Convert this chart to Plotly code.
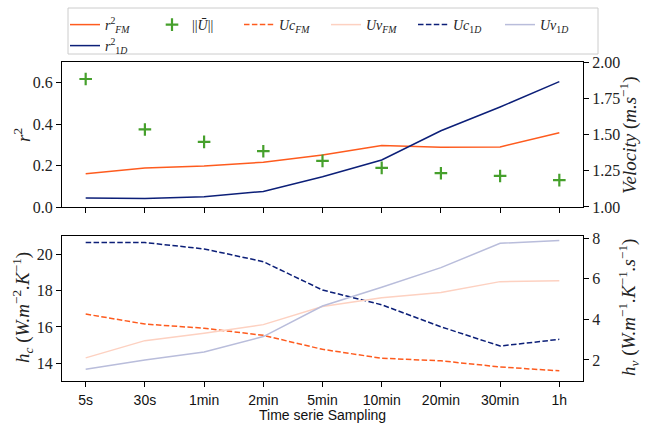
import plotly.graph_objects as go

# Sampling periods of the time series
categories = ["5s", "30s", "1min", "2min", "5min", "10min", "20min", "30min", "1h"]

# Top panel: coefficient of determination and mean wind speed
r2_fm = [0.160, 0.188, 0.198, 0.216, 0.251, 0.297, 0.289, 0.290, 0.358]
r2_1d = [0.044, 0.041, 0.050, 0.075, 0.146, 0.227, 0.368, 0.483, 0.605]
velocity = [1.883, 1.535, 1.449, 1.385, 1.318, 1.270, 1.233, 1.214, 1.185]

# Bottom panel: convective (hc) and wind-dependent (hv) coefficients
uc_fm = [16.71, 16.16, 15.93, 15.54, 14.77, 14.28, 14.14, 13.80, 13.59]
uc_1d = [20.64, 20.64, 20.29, 19.59, 18.03, 17.22, 16.01, 14.95, 15.32]
uv_fm = [2.10, 2.95, 3.32, 3.74, 4.63, 5.07, 5.32, 5.86, 5.90]
uv_1d = [1.54, 1.99, 2.39, 3.15, 4.66, 5.58, 6.55, 7.75, 7.89]

ORANGE = "#fe5b1e"
NAVY = "#0c1f78"
GREEN = "#46a02c"
SALMON = "#fdd1c1"
LAVENDER = "#b9bddb"
DASH = "5.5px,2.4px"

SERIF = "Liberation Serif"
SANS = "Liberation Sans"

W, H = 645, 430
x0, x1 = 62 / W, 583 / W
top_dom = [1 - 207 / H, 1 - 62 / H]
bot_dom = [1 - 381 / H, 1 - 236 / H]

fig = go.Figure()

fig.add_trace(go.Scatter(x=categories, y=r2_fm, mode="lines", name="<i>r</i><sup>2</sup><sub><i>FM</i></sub>",
                         line=dict(color=ORANGE, width=1.5), xaxis="x", yaxis="y", legend="legend"))
fig.add_trace(go.Scatter(x=categories, y=velocity, mode="markers", name="||<i>Ū</i>||",
                         marker=dict(symbol="cross-thin", size=9, line=dict(color=GREEN, width=2.2)),
                         xaxis="x", yaxis="y2", legend="legend"))
fig.add_trace(go.Scatter(x=categories, y=uc_fm, mode="lines", name="<i>Uc</i><sub><i>FM</i></sub>",
                         line=dict(color=ORANGE, width=1.5, dash=DASH), xaxis="x2", yaxis="y3",
                         legend="legend"))
fig.add_trace(go.Scatter(x=categories, y=uv_fm, mode="lines", name="<i>Uv</i><sub><i>FM</i></sub>",
                         line=dict(color=SALMON, width=1.5), xaxis="x2", yaxis="y4", legend="legend"))
fig.add_trace(go.Scatter(x=categories, y=uc_1d, mode="lines", name="<i>Uc</i><sub>1<i>D</i></sub>",
                         line=dict(color=NAVY, width=1.5, dash=DASH), xaxis="x2", yaxis="y3",
                         legend="legend"))
fig.add_trace(go.Scatter(x=categories, y=uv_1d, mode="lines", name="<i>Uv</i><sub>1<i>D</i></sub>",
                         line=dict(color=LAVENDER, width=1.5), xaxis="x2", yaxis="y4", legend="legend"))
fig.add_trace(go.Scatter(x=categories, y=r2_1d, mode="lines", name="<i>r</i><sup>2</sup><sub>1<i>D</i></sub>",
                         line=dict(color=NAVY, width=1.5), xaxis="x", yaxis="y", legend="legend2"))

axis_common = dict(showline=True, linecolor="black", linewidth=1.1, ticks="outside",
                   ticklen=5, tickwidth=1, tickcolor="black", showgrid=False, zeroline=False)
serif_ticks = dict(family=SERIF, size=16, color="#222")

legend_common = dict(orientation="h", xanchor="left",
                     bgcolor="rgba(0,0,0,0)", borderwidth=0,
                     font=dict(family=SERIF, size=14, color="#222"),
                     entrywidth=42, entrywidthmode="pixels", itemwidth=30,
                     traceorder="normal", tracegroupgap=0)

fig.update_layout(
    width=W, height=H,
    margin=dict(l=0, r=0, t=0, b=0, autoexpand=False),
    paper_bgcolor="white", plot_bgcolor="white",
    showlegend=True,
    legend=dict(x=65 / W, y=1 - 25 / H, yanchor="middle", **legend_common),
    legend2=dict(x=65 / W, y=1 - 46 / H, yanchor="middle", **legend_common),
    xaxis=dict(domain=[x0, x1], anchor="y", type="category", range=[-0.4, 8.4],
               showticklabels=False, mirror=True, **axis_common),
    yaxis=dict(domain=top_dom, anchor="x", range=[0, 0.7], tickvals=[0, 0.2, 0.4, 0.6],
               tickformat=".1f", tickfont=serif_ticks, mirror=True, **axis_common),
    yaxis2=dict(overlaying="y", side="right", anchor="x", range=[0.9999, 2.0003],
                tickvals=[1, 1.25, 1.5, 1.75, 2], tickformat=".2f", tickfont=serif_ticks, **axis_common),
    xaxis2=dict(domain=[x0, x1], anchor="y3", type="category", range=[-0.4, 8.4],
                tickfont=dict(family=SANS, size=14, color="#111"), ticklabelstandoff=1,
                mirror=True, **axis_common),
    yaxis3=dict(domain=bot_dom, anchor="x2", range=[13.03, 21.0], tickvals=[14, 16, 18, 20],
                tickfont=serif_ticks, mirror=True, **axis_common),
    yaxis4=dict(overlaying="y3", side="right", anchor="x2", range=[0.96, 8.11],
                tickvals=[2, 4, 6, 8], tickfont=serif_ticks, **axis_common),
)

# Frame around the two-row legend
fig.add_shape(type="rect", xref="paper", yref="paper", layer="below",
              x0=68 / W, x1=598 / W, y0=1 - 54 / H, y1=1 - 8 / H,
              line=dict(color="#cccccc", width=1), fillcolor="white")

# Axis titles
titles = [
    dict(text="<i>r</i><sup>2</sup>", x=22 / W, y=1 - 135 / H),
    dict(text="<i>Velocity</i> (<i>m.s</i><sup>−1</sup>)", x=628 / W, y=1 - 135 / H),
    dict(text="<i>h<sub>c</sub></i> (<i>W.m</i><sup>−2</sup><i>.K</i><sup>−1</sup>)", x=22 / W, y=1 - 308 / H),
    dict(text="<i>h<sub>v</sub></i> (<i>W.m</i><sup>−1</sup><i>.K</i><sup>−1</sup><i>.s</i><sup>−1</sup>)",
         x=628 / W, y=1 - 308 / H),
]
for t in titles:
    fig.add_annotation(text=t["text"], x=t["x"], y=t["y"], xref="paper", yref="paper",
                       textangle=-90, showarrow=False, xanchor="center", yanchor="middle",
                       font=dict(family=SERIF, size=19, color="#222"))

fig.add_annotation(text="Time serie Sampling", x=(x0 + x1) / 2, y=1 - 415 / H, xref="paper", yref="paper",
                   showarrow=False, xanchor="center", yanchor="middle",
                   font=dict(family=SANS, size=14, color="#111"))

fig.write_html("out.html")
